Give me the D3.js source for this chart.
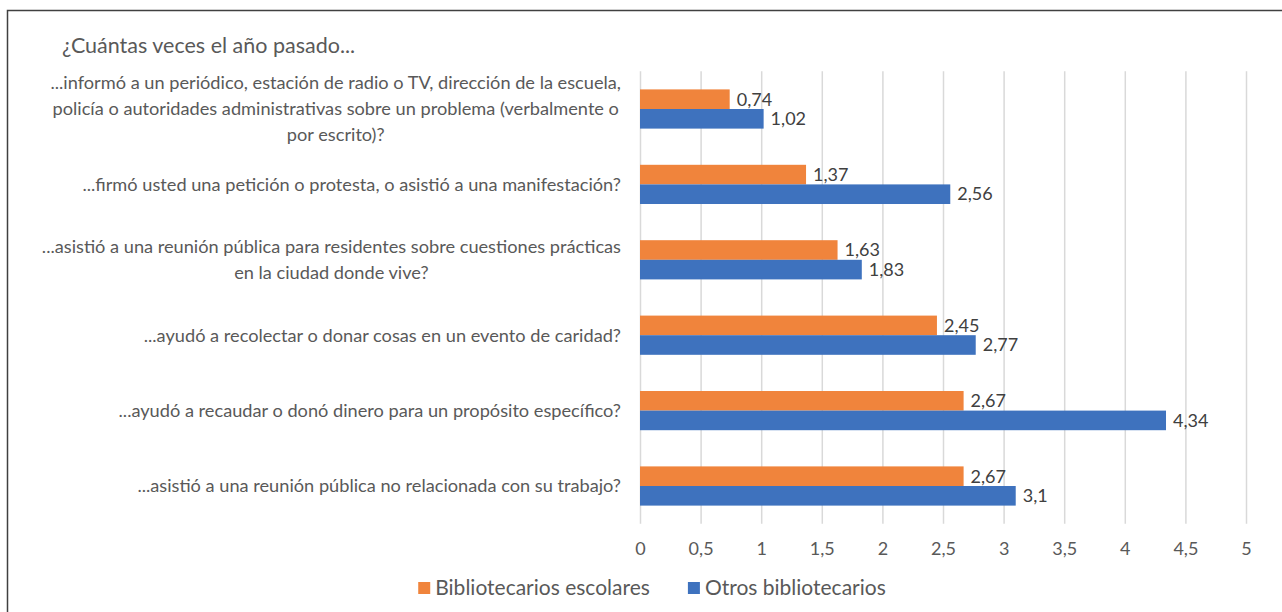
<!DOCTYPE html>
<html>
<head>
<meta charset="utf-8">
<script src="https://cdn.jsdelivr.net/npm/d3@7"></script>
<style>
  body { margin: 0; background: #fff; }
  text { font-family: "Lato", "Roboto", sans-serif; }
</style>
</head>
<body>
<div id="chart"></div>
<script>
// chart values
const categories = [
  ["...informó a un periódico, estación de radio o TV, dirección de la escuela,",
   "policía o autoridades administrativas sobre un problema (verbalmente o",
   "por escrito)?"],
  ["...firmó usted una petición o protesta, o asistió a una manifestación?"],
  ["...asistió a una reunión pública para residentes sobre cuestiones prácticas",
   "en la ciudad donde vive?"],
  ["...ayudó a recolectar o donar cosas en un evento de caridad?"],
  ["...ayudó a recaudar o donó dinero para un propósito específico?"],
  ["...asistió a una reunión pública no relacionada con su trabajo?"]
];
const escolares = [0.74, 1.37, 1.63, 2.45, 2.67, 2.67];
const otros = [1.02, 2.56, 1.83, 2.77, 4.34, 3.1];
const seriesNames = ["Bibliotecarios escolares", "Otros bibliotecarios"];
const seriesColors = ["#F0843C", "#3E72BE"];
const xTicks = [0, 0.5, 1, 1.5, 2, 2.5, 3, 3.5, 4, 4.5, 5];
const title = "¿Cuántas veces el año pasado...";

const svgWidth = 1282;
const svgHeight = 612;

const svg = d3.select("#chart")
  .append("svg")
  .attr("width", svgWidth)
  .attr("height", svgHeight);

// outer frame (runs off right and bottom edge)
svg.append("rect")
  .attr("x", 7.5)
  .attr("y", 10.5)
  .attr("width", 1300)
  .attr("height", 700)
  .attr("fill", "none")
  .attr("stroke", "#404040")
  .attr("stroke-width", 1.5);

svg.append("text")
  .attr("x", 62)
  .attr("y", 53)
  .attr("font-size", "21.5px")
  .attr("fill", "#595959")
  .text(title);

const fmt = v => String(v).replace(".", ",");

const x = d3.scaleLinear().domain([0, 5]).range([640, 1246]);
const idx = d3.range(categories.length);
const y = d3.scaleBand().domain(idx).range([71.3, 523.7])
  .paddingInner(0.48).paddingOuter(0.24);
const sub = d3.scaleBand().domain([0, 1]).range([0, y.bandwidth()]);

// gridlines + ticks
const xAxis = d3.axisBottom(x)
  .tickValues(xTicks)
  .tickFormat(fmt)
  .tickSize(523.7 - 71.3)
  .tickSizeOuter(0);

const gx = svg.append("g")
  .attr("transform", `translate(0, 71.3)`)
  .call(xAxis);
gx.select(".domain").remove();
gx.selectAll(".tick line")
  .attr("stroke", "#d9d9d9")
  .attr("stroke-width", 1.5);
gx.selectAll(".tick text")
  .attr("y", 477)
  .attr("dy", "0.35em")
  .attr("font-size", "18px")
  .attr("fill", "#595959");

// bars
const rows = idx.map(i => ({ i, vals: [escolares[i], otros[i]] }));
const groups = svg.append("g").selectAll("g")
  .data(rows)
  .join("g")
  .attr("transform", d => `translate(0, ${y(d.i)})`);

groups.selectAll("rect")
  .data(d => d.vals.map((v, s) => ({ v, s })))
  .join("rect")
  .attr("x", x(0))
  .attr("y", d => sub(d.s))
  .attr("width", d => x(d.v) - x(0))
  .attr("height", sub.bandwidth())
  .attr("fill", d => seriesColors[d.s]);

groups.selectAll("text.val")
  .data(d => d.vals.map((v, s) => ({ v, s })))
  .join("text")
  .classed("val", true)
  .attr("x", d => x(d.v) + 7)
  .attr("y", d => sub(d.s) + sub.bandwidth() / 2)
  .attr("dy", "0.35em")
  .attr("font-size", "18px")
  .attr("fill", "#404040")
  .text(d => fmt(d.v));

// category labels, centre aligned block ending at x=622
const lineH = 26;
const labelGroups = svg.append("g").selectAll("g")
  .data(rows)
  .join("g");

labelGroups.each(function(d) {
  const g = d3.select(this);
  const lines = categories[d.i];
  const cy = y(d.i) + y.bandwidth() / 2;
  const texts = g.selectAll("text")
    .data(lines)
    .join("text")
    .attr("font-size", "18.2px")
    .attr("fill", "#595959")
    .attr("text-anchor", "middle")
    .attr("y", (t, k) => cy + (k - (lines.length - 1) / 2) * lineH)
    .attr("dy", "0.35em")
    .text(t => t);
  let maxW = 0;
  texts.each(function() { maxW = Math.max(maxW, this.getComputedTextLength()); });
  texts.attr("x", 621 - maxW / 2);
});

// legend
const legend = svg.append("g");
const legItems = legend.selectAll("g")
  .data(seriesNames)
  .join("g");
legItems.append("rect")
  .attr("width", 12)
  .attr("height", 12)
  .attr("y", 582)
  .attr("fill", (d, i) => seriesColors[i]);
legItems.append("text")
  .attr("x", 17)
  .attr("y", 588)
  .attr("dy", "0.35em")
  .attr("font-size", "21px")
  .attr("fill", "#595959")
  .text(d => d);

let widths = [];
legItems.select("text").each(function() { widths.push(17 + this.getComputedTextLength()); });
const gap = 38;
const total = d3.sum(widths) + gap;
let cx = 652 - total / 2;
legItems.attr("transform", (d, i) => {
  const t = `translate(${cx}, 0)`;
  cx += widths[i] + gap;
  return t;
});
</script>
</body>
</html>
